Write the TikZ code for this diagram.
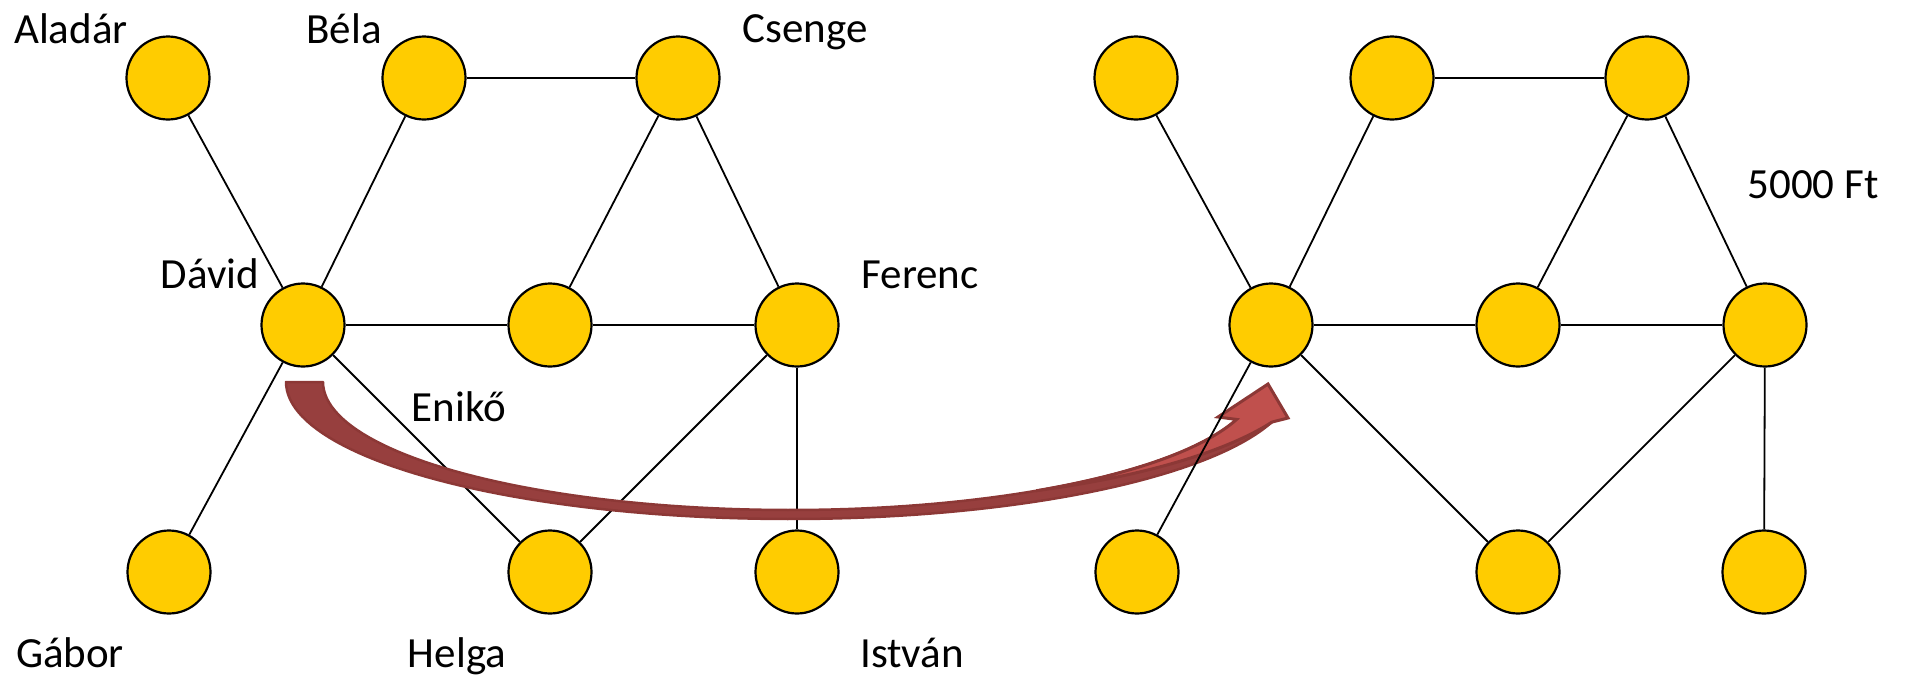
\documentclass[tikz,border=0pt]{standalone}
\usepackage{fontspec}
\setmainfont{Carlito}
\definecolor{nodeyellow}{HTML}{FFCC00}
\definecolor{arrowdark}{HTML}{8C3836}
\definecolor{arrowback}{HTML}{973F3E}
\definecolor{arrowfront}{HTML}{C0504D}
\begin{document}
\begin{tikzpicture}[x=1pt,y=-1pt,
  person/.style={circle,draw=black,line width=2.2pt,fill=nodeyellow,minimum size=83pt,inner sep=0pt},
  link/.style={line width=1.8pt,black},
  plabel/.style={anchor=base,font=\fontsize{43}{50}\selectfont,inner sep=0pt}]
\useasboundingbox (0,0) rectangle (1912,675);

% names
\node[plabel] (la) at (71,43) {Aladár};
\node[plabel] (lb) at (344,43) {Béla};
\node[plabel] (lc) at (805,42) {Csenge};
\node[plabel] (ld) at (210,288) {Dávid};
\node[plabel] (lf) at (920,288) {Ferenc};
\node[plabel] (le) at (459,421) {Enikő};
\node[plabel] (lg) at (70,667) {Gábor};
\node[plabel] (lh) at (457,667) {Helga};
\node[plabel] (li) at (912,667) {István};
\node[plabel] (price) at (1813,198) {5000 Ft};

% first graph
\foreach \n/\x/\y in {a/168/78, b/424/78, c/678/78, d/303/325, e/550/325, f/797/325, g/169/572, h/550/572, i/797/572}
  \node[person] (\n1) at (\x,\y) {};
\foreach \s/\t in {a/d, b/d, b/c, c/e, c/f, d/e, e/f, d/g, d/h, f/h, f/i}
  \draw[link] (\s1) -- (\t1);

% curved arrow: two concentric elliptic arcs, back of the ribbon
\filldraw[fill=arrowback, draw=arrowdark, line width=2.5pt, line join=round]
  plot[domain=180:17, samples=90] ({790+504*cos(\x)},{382+137*sin(\x)})
  -- plot[domain=17:180, samples=90] ({790+467*cos(\x)},{382+128*sin(\x)})
  -- cycle;
% front of the ribbon and the head
\filldraw[fill=arrowfront, draw=arrowdark, line width=3pt, line join=miter]
  plot[domain=58:17, samples=40] ({790+467*cos(\x)},{382+128*sin(\x)})
  -- (1218,417) -- (1268,384) -- (1288,418)
  -- plot[domain=17:58, samples=40] ({790+(467+37*(58-\x)/41)*cos(\x)},{382+(128+9*(58-\x)/41)*sin(\x)})
  -- cycle;

% second graph
\foreach \n/\x/\y in {a/1136/78, b/1392/78, c/1647/78, d/1271/325, e/1518/325, f/1765/325, g/1137/572, h/1518/572, i/1764/572}
  \node[person] (\n2) at (\x,\y) {};
\foreach \s/\t in {a/d, b/d, b/c, c/e, c/f, d/e, e/f, d/g, d/h, f/h, f/i}
  \draw[link] (\s2) -- (\t2);
\end{tikzpicture}
\end{document}
